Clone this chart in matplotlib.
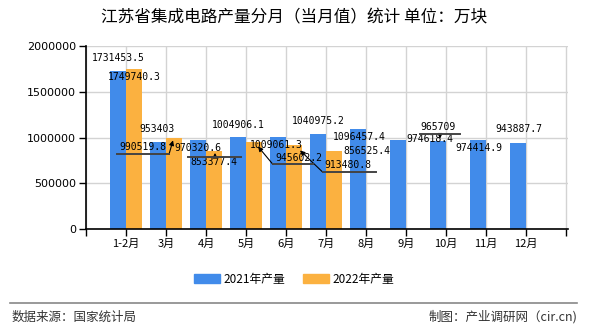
import matplotlib
matplotlib.use('Agg')
from matplotlib import pyplot as plt
from matplotlib.lines import Line2D
from matplotlib.patches import Patch
from matplotlib.ticker import FuncFormatter
from matplotlib.transforms import IdentityTransform

months = ['1-2月', '3月', '4月', '5月', '6月', '7月', '8月', '9月', '10月', '11月', '12月']
y2021 = [1731453.5, 953403, 970320.6, 1004906.1, 1009061.3, 1040975.2, 1096457.4,
         974618.4, 965709, 974414.9, 943887.7]
y2022 = [1749740.3, 990519.8, 853377.4, 945602.2, 913480.8, 856525.4]
series_names = ['2021年产量', '2022年产量']

blue = '#418BEA'
orange = '#FBB140'
cjk = ['Noto Sans CJK SC', 'DejaVu Sans']
mono = 'DejaVu Sans Mono'

# label offsets in screen pixels (dx right, dy down) from bar top
off2021 = [(0, -13), (-1, -13), (0, 8), (0, -12), (-2, 8), (0, -13), (1, 8),
           (32, -1), (0, -14), (1, 8), (1, -14)]
off2022 = [(0, 8), (-31, 9), (0, 11), (45, 16), (54, 20), (33, 0)]
# leaders: (polyline, arrow start, arrow tip), screen px relative to bar top
lead2021 = {8: ([(-18, -7), (22, -7)], (2, -7), (2, -2))}
lead2022 = {1: ([(-57, 16), (-5, 16)], (-5, 16), (-1, 2)),
            2: ([(-26, 6), (27, 6)], (1, 6), (1, 2)),
            3: ([(59, 22), (19, 22)], (19, 22), (4, 4)),
            4: ([(82, 27), (29, 27)], (29, 27), (6, 5))}

fig = plt.figure(figsize=(5.9, 3.3), dpi=100)
ax = fig.add_axes([86 / 590, 1 - 229 / 330, 482 / 590, 183 / 330])

w = 0.4
x1 = [i - w / 2 for i in range(len(y2021))]
x2 = [i + w / 2 for i in range(len(y2022))]
ax.bar(x1, y2021, width=w, color=blue, zorder=2)
ax.bar(x2, y2022, width=w, color=orange, zorder=2)

ax.set_xlim(-1, 11.05)
ax.set_ylim(0, 2000000)
ax.set_yticks(range(0, 2000001, 500000))
ax.yaxis.set_major_formatter(FuncFormatter(lambda v, _: f'{int(v)}'))
ax.set_xticks(range(-1, 12))
ax.set_xticklabels([''] + months + [''], family=cjk, fontsize=8)
ax.tick_params(axis='both', direction='out', length=5, width=1, color='black')
ax.tick_params(axis='x', pad=2)
ax.tick_params(axis='y', pad=2, labelsize=8)
ax.grid(True, color='#d3d3d3', lw=1, zorder=0)
ax.set_axisbelow(True)
for s in ['top', 'right']:
    ax.spines[s].set_visible(False)
for s in ['left', 'bottom']:
    ax.spines[s].set_color('black')
    ax.spines[s].set_linewidth(1.2)


def fmt(v):
    s = f'{v:.1f}'
    return s[:-2] if s.endswith('.0') else s


def put_labels(xs, ys, offs, leads):
    for i, (x, y) in enumerate(zip(xs, ys)):
        dx, dy = offs[i]
        ax.annotate(fmt(y), (x, y), xytext=(dx, -dy), textcoords='offset pixels',
                    ha='center', va='center', fontsize=7, family=mono, color='black', zorder=5)
        if i not in leads:
            continue
        px, py = ax.transData.transform((x, y))
        line, a0, a1 = leads[i]
        fig.add_artist(Line2D([px + a for a, b in line], [py - b for a, b in line],
                              transform=IdentityTransform(), color='#444444', lw=1.4, zorder=5))
        ax.annotate('', xy=(px + a1[0], py - a1[1]), xytext=(px + a0[0], py - a0[1]),
                    xycoords='figure pixels', textcoords='figure pixels',
                    arrowprops=dict(arrowstyle='-|>', color='black', lw=0.8,
                                    mutation_scale=7, shrinkA=0, shrinkB=0))


fig.canvas.draw()
put_labels(x1, y2021, off2021, lead2021)
put_labels(x2, y2022, off2022, lead2022)

fig.text(294 / 590, 1 - 18 / 330, '江苏省集成电路产量分月（当月值）统计 单位：万块',
         ha='center', va='center', fontsize=12, family=cjk)

handles = [Patch(color=blue), Patch(color=orange)]
fig.legend(handles, series_names, loc='center', bbox_to_anchor=(294 / 590, 1 - 279 / 330),
           ncol=2, frameon=False, prop={'family': cjk, 'size': 8.5},
           handlelength=2.2, handleheight=0.9, handletextpad=0.3, columnspacing=1.5)

fig.add_artist(Line2D([10 / 590, 577 / 590], [1 - 303 / 330] * 2, color='#888888', lw=1.2))
fig.text(12 / 590, 1 - 317 / 330, '数据来源：国家统计局', ha='left', va='center',
         fontsize=9, family=cjk, color='#333333')
fig.text(577 / 590, 1 - 317 / 330, '制图：产业调研网（cir.cn)', ha='right', va='center',
         fontsize=9, family=cjk, color='#333333')

fig.savefig('out.png', dpi=100)
